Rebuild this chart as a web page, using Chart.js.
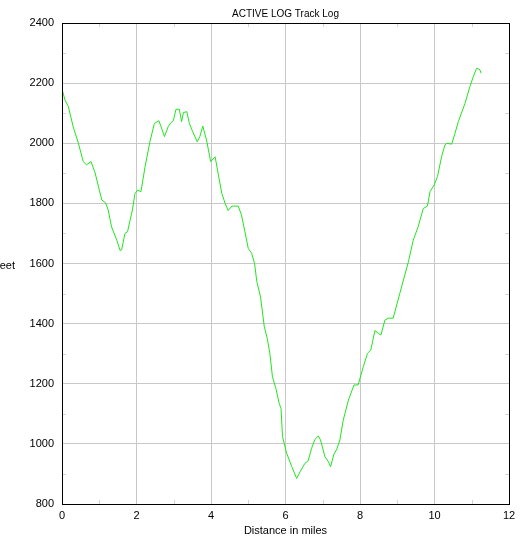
<!DOCTYPE html>
<html>
<head>
<meta charset="utf-8">
<script src="https://cdn.jsdelivr.net/npm/chart.js@4/dist/chart.umd.min.js"></script>
<style>
    html, body { margin: 0; padding: 0; background: #fff; }
    #wrap { width: 529px; height: 540px; }
</style>
</head>
<body>
<div id="wrap"><canvas id="trackChart" width="529" height="540"></canvas></div>
<script>
// Track log values
let miles = [0.00, 0.08, 0.17, 0.30, 0.44, 0.57, 0.66, 0.78, 0.89, 0.98, 1.07, 1.17, 1.24, 1.33, 1.47, 1.56, 1.60, 1.69, 1.76, 1.89,
    1.96, 2.03, 2.12, 2.23, 2.36, 2.48, 2.60, 2.66, 2.75, 2.85, 2.92, 2.99, 3.06, 3.15, 3.21, 3.26, 3.35, 3.42, 3.51, 3.63,
    3.70, 3.78, 3.88, 3.99, 4.11, 4.20, 4.29, 4.38, 4.46, 4.56, 4.73, 4.82, 4.91, 5.00, 5.09, 5.17, 5.23, 5.33, 5.43, 5.51,
    5.58, 5.65, 5.74, 5.83, 5.88, 5.92, 6.03, 6.17, 6.30, 6.39, 6.52, 6.61, 6.70, 6.79, 6.88, 6.94, 7.06, 7.15, 7.21, 7.30,
    7.37, 7.46, 7.55, 7.69, 7.84, 7.95, 8.09, 8.20, 8.29, 8.40, 8.49, 8.56, 8.67, 8.76, 8.89, 9.07, 9.30, 9.43, 9.56, 9.70,
    9.81, 9.88, 9.99, 10.08, 10.19, 10.28, 10.33, 10.46, 10.55, 10.64, 10.82, 10.95, 11.04, 11.13, 11.19, 11.22, 11.25];
let feet = [2180, 2144, 2122, 2055, 2000, 1939, 1928, 1939, 1901, 1855, 1811, 1802, 1778, 1722, 1678, 1643, 1645, 1700, 1706, 1778,
    1833, 1844, 1839, 1922, 2005, 2066, 2075, 2055, 2022, 2055, 2068, 2075, 2113, 2113, 2072, 2102, 2105, 2066, 2038, 2005,
    2022, 2057, 2011, 1939, 1955, 1894, 1833, 1800, 1776, 1791, 1791, 1761, 1706, 1650, 1634, 1600, 1540, 1489, 1390, 1351,
    1301, 1223, 1185, 1135, 1118, 1024, 969, 924, 885, 907, 935, 944, 985, 1015, 1026, 1013, 957, 941, 924, 966,
    980, 1013, 1079, 1146, 1196, 1196, 1257, 1301, 1312, 1377, 1368, 1362, 1412, 1418, 1418, 1501, 1606, 1678, 1722, 1783,
    1791, 1839, 1861, 1889, 1955, 1994, 2000, 1997, 2033, 2072, 2133, 2188, 2221, 2249, 2247, 2244, 2233];

let xTicks = [0, 2, 4, 6, 8, 10, 12];
let yTicks = [800, 1000, 1200, 1400, 1600, 1800, 2000, 2200, 2400];
let xMinor = [1, 3, 5, 7, 9, 11];
let yMinor = [900, 1100, 1300, 1500, 1700, 1900, 2100, 2300];

let chartTitle = 'ACTIVE LOG Track Log';
let xTitle = 'Distance in miles';
let yTitle = 'Feet';

let fontFamily = '"Liberation Sans", Arial, sans-serif';

// Frame, minor ticks and the unrotated labels
let framePlugin = {
    id: 'frame',
    afterDraw(chart) {
        let ctx = chart.ctx;
        let area = chart.chartArea;
        let xs = chart.scales.x;
        let ys = chart.scales.y;
        ctx.save();
        ctx.strokeStyle = '#d4d4d4';
        ctx.lineWidth = 1;
        ctx.beginPath();
        for (let v of xMinor) {
            let px = Math.round(xs.getPixelForValue(v)) + 0.5;
            ctx.moveTo(px, area.top); ctx.lineTo(px, area.top + 4);
            ctx.moveTo(px, area.bottom); ctx.lineTo(px, area.bottom - 4);
        }
        for (let v of yMinor) {
            let py = Math.round(ys.getPixelForValue(v)) + 0.5;
            ctx.moveTo(area.left, py); ctx.lineTo(area.left + 4, py);
            ctx.moveTo(area.right, py); ctx.lineTo(area.right - 4, py);
        }
        ctx.stroke();

        ctx.strokeStyle = '#000';
        ctx.strokeRect(Math.round(area.left) + 0.5, Math.round(area.top) + 0.5,
            Math.round(area.right - area.left), Math.round(area.bottom - area.top));

        ctx.fillStyle = '#000';
        ctx.font = '10px ' + fontFamily;
        ctx.textAlign = 'center';
        ctx.textBaseline = 'middle';
        ctx.fillText(chartTitle, (area.left + area.right) / 2, 14);

        ctx.font = '11px ' + fontFamily;
        ctx.textAlign = 'right';
        ctx.fillText(yTitle, area.left - 47, (area.top + area.bottom) / 2 + 2);
        ctx.restore();
    }
};

let ctx = document.getElementById('trackChart').getContext('2d');
new Chart(ctx, {
    type: 'scatter',
    data: {
        datasets: [{
            data: miles.map((m, i) => ({ x: m, y: feet[i] })),
            showLine: true,
            borderColor: '#1ee61e',
            borderWidth: 1,
            pointRadius: 0,
            tension: 0
        }]
    },
    options: {
        responsive: false,
        animation: false,
        layout: { padding: { top: 23, right: 20, left: 0, bottom: 0 } },
        plugins: {
            legend: { display: false },
            tooltip: { enabled: false },
            title: { display: false }
        },
        scales: {
            x: {
                type: 'linear',
                min: 0,
                max: 12,
                afterBuildTicks: (scale) => { scale.ticks = xTicks.map(v => ({ value: v })); },
                afterFit: (scale) => { scale.height = 36; },
                ticks: { color: '#000', font: { family: fontFamily, size: 11 }, padding: 5, maxRotation: 0, callback: (v) => String(v) },
                grid: { color: '#c8c8c8', drawTicks: false },
                border: { display: false },
                title: { display: true, text: xTitle, color: '#000', font: { family: fontFamily, size: 11 }, padding: { top: 0, bottom: 2 } }
            },
            y: {
                type: 'linear',
                min: 800,
                max: 2400,
                afterBuildTicks: (scale) => { scale.ticks = yTicks.map(v => ({ value: v })); },
                afterFit: (scale) => { scale.width = 62; },
                ticks: { color: '#000', font: { family: fontFamily, size: 11 }, padding: 8, callback: (v) => String(v) },
                grid: { color: '#c8c8c8', drawTicks: false },
                border: { display: false }
            }
        }
    },
    plugins: [framePlugin]
});
</script>
</body>
</html>
